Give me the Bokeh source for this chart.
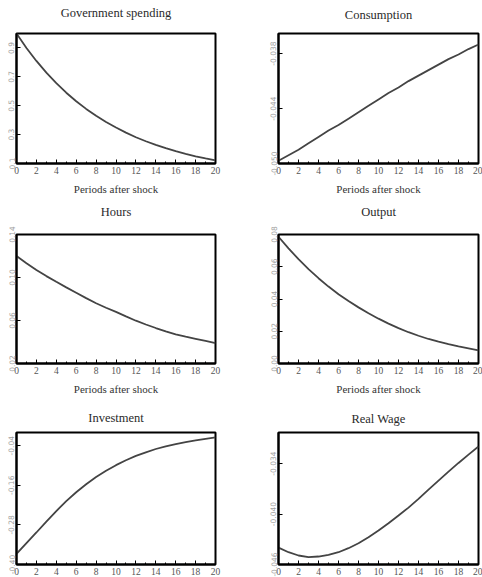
from bokeh.plotting import figure
from bokeh.layouts import column, row
from bokeh.models import Range1d, FixedTicker, PrintfTickFormatter, Title
from bokeh.embed import file_html
from bokeh.resources import INLINE

periods = list(range(21))
x_ticks = [0, 2, 4, 6, 8, 10, 12, 14, 16, 18, 20]

gov_spending = [1.000, 0.900, 0.810, 0.729, 0.656, 0.590, 0.531, 0.478, 0.430, 0.387, 0.349,
                0.314, 0.282, 0.254, 0.229, 0.206, 0.185, 0.167, 0.150, 0.135, 0.122]
consumption = [-0.0497, -0.0491, -0.0485, -0.0478, -0.0471, -0.0464, -0.0458, -0.0451, -0.0444,
               -0.0437, -0.0430, -0.0423, -0.0417, -0.0410, -0.0404, -0.0398, -0.0392, -0.0386,
               -0.0381, -0.0375, -0.0370]
hours = [0.1200, 0.1133, 0.1070, 0.1013, 0.0960, 0.0908, 0.0858, 0.0808, 0.0760, 0.0719, 0.0680,
         0.0638, 0.0598, 0.0563, 0.0530, 0.0499, 0.0470, 0.0449, 0.0430, 0.0410, 0.0390]
output = [0.0786, 0.0714, 0.0647, 0.0585, 0.0529, 0.0477, 0.0430, 0.0387, 0.0348, 0.0312, 0.0278,
          0.0247, 0.0219, 0.0194, 0.0172, 0.0152, 0.0135, 0.0120, 0.0106, 0.0094, 0.0082]
investment = [-0.3676, -0.335, -0.303, -0.270, -0.238, -0.208, -0.181, -0.157, -0.135, -0.116, -0.099,
              -0.084, -0.071, -0.060, -0.050, -0.042, -0.035, -0.029, -0.024, -0.019, -0.015]
real_wage = [-0.0440, -0.04454, -0.04493, -0.04513, -0.04505, -0.04485, -0.04454, -0.04406, -0.04347,
             -0.04276, -0.04196, -0.04109, -0.04018, -0.03923, -0.03820, -0.03709, -0.03602,
             -0.03495, -0.03392, -0.03293, -0.03195]

gov_ticks = [0.1, 0.3, 0.5, 0.7, 0.9]
cons_ticks = [-0.050, -0.044, -0.038]
hours_ticks = [0.02, 0.06, 0.10, 0.14]
output_ticks = [0.00, 0.02, 0.04, 0.06, 0.08]
inv_ticks = [-0.40, -0.28, -0.16, -0.04]
wage_ticks = [-0.046, -0.040, -0.034]

SERIF = "Liberation Serif"


def panel(title, y, yrange, yticks, fmt, side, height, top, bottom, xlabel, spacer):
    if side == "left":
        lb, rb = 16, 26
    else:
        lb, rb = 37, 4
    p = figure(width=241, height=height, output_backend="svg", toolbar_location=None,
               x_range=Range1d(0, 20), y_range=Range1d(*yrange),
               min_border_left=lb, min_border_right=rb,
               min_border_top=top, min_border_bottom=bottom)
    p.title.text = title
    p.title.align = "center"
    p.title.vertical_align = "top"
    p.title.text_font = SERIF
    p.title.text_font_size = "12.5px"
    p.title.text_font_style = "normal"
    p.title.text_color = "#2a2a2a"
    p.title.standoff = 0
    # blank spacer between the frame and the title
    p.add_layout(Title(text=" ", text_font_size="1px", standoff=spacer), "above")
    p.line(periods, y, line_color="#444444", line_width=1.8)
    p.grid.visible = False
    p.outline_line_color = "black"
    p.outline_line_width = 2
    p.outline_line_alpha = 1
    p.background_fill_color = "white"
    p.border_fill_color = "white"

    xa = p.xaxis[0]
    xa.ticker = FixedTicker(ticks=x_ticks, minor_ticks=periods)
    xa.major_label_text_font = SERIF
    xa.major_label_text_font_size = "9.5px"
    xa.major_label_text_color = "#555555"
    xa.major_label_standoff = 3
    xa.major_tick_in = 4
    xa.major_tick_out = 0
    xa.minor_tick_in = 2
    xa.minor_tick_out = 0
    xa.axis_line_width = 2
    xa.axis_line_color = "black"
    if xlabel:
        xa.axis_label = "Periods after shock"
        xa.axis_label_text_font = SERIF
        xa.axis_label_text_font_size = "11px"
        xa.axis_label_text_font_style = "normal"
        xa.axis_label_text_color = "#333333"
        xa.axis_label_standoff = 6

    ya = p.yaxis[0]
    ya.ticker = FixedTicker(ticks=yticks)
    ya.formatter = PrintfTickFormatter(format=fmt)
    ya.major_label_orientation = "vertical"
    ya.major_label_text_font = "DejaVu Sans"
    ya.major_label_text_font_size = "7.5px"
    ya.major_label_text_color = "#a0a0a0"
    ya.major_label_standoff = 2
    ya.major_tick_in = 4
    ya.major_tick_out = 0
    ya.minor_tick_in = 2
    ya.minor_tick_out = 0
    ya.axis_line_width = 2
    ya.axis_line_color = "black"
    return p


p1 = panel("Government spending", gov_spending, (0.1, 1.0), gov_ticks, "%.1f", "left", 197, 32, 31, True, 9)
p2 = panel("Consumption", consumption, (-0.050, -0.0358), cons_ticks, "%.3f", "right", 197, 33, 31, True, 7)
p3 = panel("Hours", hours, (0.02, 0.14), hours_ticks, "%.2f", "left", 200, 36, 29, True, 11)
p4 = panel("Output", output, (0.00, 0.08), output_ticks, "%.2f", "right", 200, 37, 29, True, 11)
p5 = panel("Investment", investment, (-0.40, 0.00), inv_ticks, "%.2f", "left", 180, 35, 13, False, 3)
p6 = panel("Real Wage", real_wage, (-0.046, -0.0303), wage_ticks, "%.3f", "right", 180, 35, 13, False, 2)

layout = column(row(p1, p2, spacing=0), row(p3, p4, spacing=0), row(p5, p6, spacing=0), spacing=0)

open("out.html", "w").write(file_html(layout, INLINE))
